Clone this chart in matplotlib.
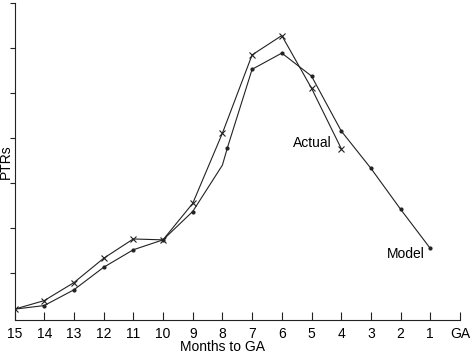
import matplotlib
matplotlib.use('Agg')
import matplotlib.pyplot as plt

plt.rcParams['font.family'] = ['Liberation Sans', 'DejaVu Sans']

# Months to GA (counting down)
months = [15, 14, 13, 12, 11, 10, 9, 8, 7, 6, 5, 4]
actual = [0.19, 0.38, 0.78, 1.32, 1.75, 1.73, 2.54, 4.10, 5.84, 6.27, 5.10, 3.76]

# model line has a kink just at 8 and its dot a bit after it
model_months = [15, 14, 13, 12, 11, 10, 9, 8, 7.83, 7, 6, 5, 4, 3, 2, 1]
model = [0.19, 0.27, 0.62, 1.12, 1.51, 1.73, 2.36, 3.39, 3.78, 5.52, 5.88, 5.37, 4.15, 3.32, 2.41, 1.54]
model_marks = [1, 2, 3, 4, 5, 6, 8, 9, 10, 11, 12, 13, 14, 15]

xtick_vals = list(range(15, -1, -1))
xtick_labels = [str(m) for m in range(15, 0, -1)] + ['GA']

fig = plt.figure(figsize=(4.72, 3.54), dpi=100)
ax = fig.add_axes([14.5 / 472, 1 - 319.7 / 354, (460 - 14.5) / 472, (319.7 - 2.7) / 354])

ink = '#222222'
ax.plot(months, actual, color=ink, lw=0.8, marker='x', ms=4.5, mew=0.8)
ax.plot(model_months, model, color=ink, lw=0.8, marker='o', ms=2, markevery=model_marks)

# line labels next to the last point of each series
ax.annotate('Actual', xy=(4, 3.76), xytext=(-7, 4), textcoords='offset points',
            ha='right', va='center', fontsize=10)
ax.annotate('Model', xy=(1, 1.54), xytext=(-4, -4), textcoords='offset points',
            ha='right', va='center', fontsize=10)

ax.set_xlim(15, 0)
ax.set_ylim(-0.044, 7)
ax.set_xticks(xtick_vals)
ax.set_xticklabels(xtick_labels, fontsize=10)
ax.set_yticks(range(1, 8))
ax.set_yticklabels([])
ax.tick_params(axis='x', direction='in', length=6, width=0.8, color=ink, pad=5)
ax.tick_params(axis='y', direction='out', length=3.5, width=0.8, color=ink)

for s in ['top', 'right']:
    ax.spines[s].set_visible(False)
for s in ['left', 'bottom']:
    ax.spines[s].set_color(ink)
    ax.spines[s].set_linewidth(0.8)

ax.set_xlabel('Months to GA', fontsize=10)
ax.xaxis.set_label_coords(0.468, -0.065)
ax.set_ylabel('PTRs', fontsize=10)
ax.yaxis.set_label_coords(-0.003, 0.5)

fig.savefig('out.png', dpi=100)
